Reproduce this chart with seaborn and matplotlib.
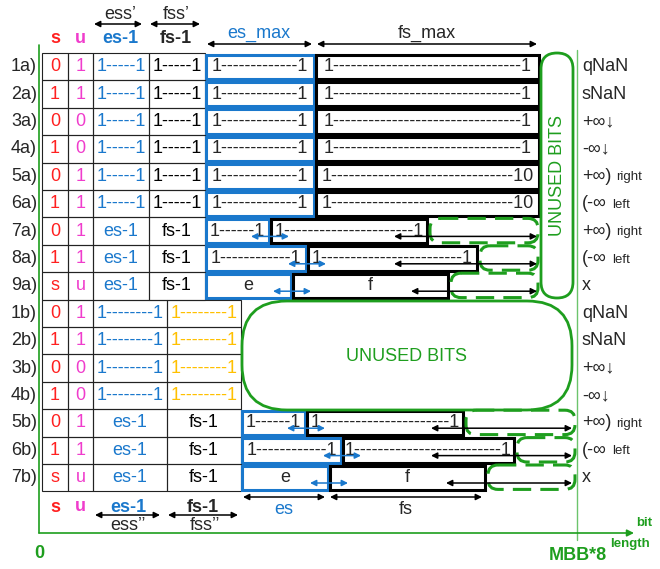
import matplotlib
matplotlib.use("Agg")
import matplotlib.pyplot as plt
import seaborn as sns
from matplotlib.patches import Rectangle, FancyBboxPatch

sns.set_theme(style="white")
plt.rcParams["font.family"] = ["Liberation Sans", "DejaVu Sans"]

# ---- data ----
a_labels = ["1a)", "2a)", "3a)", "4a)", "5a)", "6a)", "7a)", "8a)", "9a)"]
a_s = ["0", "1", "0", "1", "0", "1", "0", "1", "s"]
a_u = ["1", "1", "0", "0", "1", "1", "1", "1", "u"]
a_es = ["1-----1", "1-----1", "1-----1", "1-----1", "1-----1", "1-----1", "es-1", "es-1", "es-1"]
a_fs = ["1-----1", "1-----1", "1-----1", "1-----1", "1-----1", "1-----1", "fs-1", "fs-1", "fs-1"]
a_e_len = [108, 108, 108, 108, 108, 108, 63, 100, 85]
a_f_len = [223, 223, 223, 223, 223, 223, 156, 169, 155]
a_e_txt = ["1-------------1"] * 6 + ["1------1", "1------------1", "e"]
a_f_txt = ["1--------------------------------1", "1--------------------------------1",
           "1--------------------------------1", "1--------------------------------1",
           "1-------------------------------10", "1-------------------------------10",
           "1----------------------1", "1------------------------1", "f"]
a_arrow_back = [None, None, None, None, None, None, 33, 83, 37]
a_right = ["qNaN", "sNaN", "+∞↓", "-∞↓", "+∞)", "(-∞", "+∞)", "(-∞", "x"]
a_side = ["", "", "", "", "right", "left", "right", "left", ""]

b_labels = ["1b)", "2b)", "3b)", "4b)", "5b)", "6b)", "7b)"]
b_s = ["0", "1", "0", "1", "0", "1", "s"]
b_u = ["1", "1", "0", "0", "1", "1", "u"]
b_es = ["1--------1", "1--------1", "1--------1", "1--------1", "es-1", "es-1", "es-1"]
b_fs = ["1--------1", "1--------1", "1--------1", "1--------1", "fs-1", "fs-1", "fs-1"]
b_e_len = [None, None, None, None, 63, 99, 86]
b_f_len = [None, None, None, None, 156, 171, 155]
b_e_txt = ["", "", "", "", "1------1", "1------------1", "e"]
b_f_txt = ["", "", "", "", "1----------------------1", "1-------------------------1", "f"]
b_arrow_back = [None, None, None, None, 32, 83, 39]
b_right = ["qNaN", "sNaN", "+∞↓", "-∞↓", "+∞)", "(-∞", "x"]
b_side = ["", "", "", "", "right", "left", ""]

# ---- style ----
RED = "#ff2020"
MAG = "#f03ccc"
BLUE = "#1a78cc"
ORANGE = "#ffc000"
GREEN = "#1e9e1e"
FS = 13

fig = plt.figure(figsize=(6.6, 5.69), dpi=100)
ax = fig.add_axes([0, 0, 1, 1])
ax.set_xlim(0, 660)
ax.set_ylim(569, 0)
ax.axis("off")

TOP = 53
H = 27.4


def arrow(x0, x1, y, color="black", ms=9):
    ax.annotate("", xy=(x1, y), xytext=(x0, y),
                arrowprops=dict(arrowstyle="<|-|>", color=color, lw=1.1,
                                mutation_scale=ms, shrinkA=0, shrinkB=0))


def draw_rows(labels, s, u, es, fs, e_len, f_len, e_txt, f_txt, back,
              right, side, first, cols, es_color, fs_color, end_x, dash_end):
    for i, lab in enumerate(labels):
        top = TOP + (first + i) * H
        yc = top + H / 2
        ax.text(37, yc, lab, ha="right", va="center", fontsize=FS)
        for c in range(4):
            ax.add_patch(Rectangle((cols[c], top), cols[c + 1] - cols[c], H,
                                   fill=False, ec="#222222", lw=0.8))
        ax.text((cols[0] + cols[1]) / 2, yc, s[i], ha="center", va="center", fontsize=FS, color=RED)
        ax.text((cols[1] + cols[2]) / 2, yc, u[i], ha="center", va="center", fontsize=FS, color=MAG)
        ec = es_color if es[i].startswith("1") else BLUE
        fc = fs_color if fs[i].startswith("1") else "black"
        ax.text((cols[2] + cols[3]) / 2, yc, es[i], ha="center", va="center", fontsize=FS, color=ec)
        ax.text((cols[3] + cols[4]) / 2, yc, fs[i], ha="center", va="center", fontsize=FS, color=fc)
        ax.text(582, yc, right[i], ha="left", va="center", fontsize=FS)
        if side[i]:
            ax.text(616 if side[i] == "right" else 612, yc + 1, side[i], ha="left",
                    va="center", fontsize=9.5)
        if e_len[i] is None:
            continue
        x0 = cols[4] + 1
        x1 = x0 + e_len[i]
        ax.add_patch(Rectangle((x0, top + 1.5), e_len[i], H - 3, fill=False, ec=BLUE, lw=2.2))
        ax.text((x0 + x1) / 2, yc, e_txt[i], ha="center", va="center", fontsize=FS)
        f0 = x1 + 2
        f1 = f0 + f_len[i]
        ax.add_patch(Rectangle((f0, top + 1.5), f_len[i], H - 3, fill=False, ec="black", lw=2.2))
        ax.text((f0 + f1) / 2, yc, f_txt[i], ha="center", va="center", fontsize=FS)
        if back[i] is not None:
            ax.add_patch(FancyBboxPatch((f1 + 3, top + 1), dash_end - f1 - 3, H - 3,
                                        boxstyle="round,pad=0,rounding_size=10",
                                        fill=False, ec=GREEN, lw=2.2, ls=(0, (6, 3))))
            arrow(x1 - 18, x1 + 20, top + 19, color=BLUE)
            arrow(f1 - back[i], end_x, top + 19)


draw_rows(a_labels, a_s, a_u, a_es, a_fs, a_e_len, a_f_len, a_e_txt, a_f_txt, a_arrow_back,
          a_right, a_side, 0, [42, 68, 93, 149, 205], BLUE, "black", 537, 538)
draw_rows(b_labels, b_s, b_u, b_es, b_fs, b_e_len, b_f_len, b_e_txt, b_f_txt, b_arrow_back,
          b_right, b_side, 9, [42, 68, 93, 167, 241], BLUE, ORANGE, 572, 575)

# unused bits areas
ax.add_patch(FancyBboxPatch((541, 53), 32, 245, boxstyle="round,pad=0,rounding_size=16",
                            fill=False, ec=GREEN, lw=2))
ax.text(557, 175, "UNUSED BITS", rotation=90, ha="center", va="center", fontsize=FS, color=GREEN)
ax.add_patch(FancyBboxPatch((242, 301), 330, 109, boxstyle="round,pad=0,rounding_size=45",
                            fill=False, ec=GREEN, lw=2))
ax.text(406, 356, "UNUSED BITS", ha="center", va="center", fontsize=FS, color=GREEN)

# header
ax.text(55, 38, "s", ha="center", va="center", fontsize=FS, color=RED, weight="bold")
ax.text(80, 38, "u", ha="center", va="center", fontsize=FS, color=MAG, weight="bold")
ax.text(120, 38, "es-1", ha="center", va="center", fontsize=FS, color=BLUE, weight="bold")
ax.text(176, 38, "fs-1", ha="center", va="center", fontsize=FS, weight="bold")
ax.text(120, 14, "ess’", ha="center", va="center", fontsize=FS)
ax.text(176, 14, "fss’", ha="center", va="center", fontsize=FS)
arrow(94, 142, 24)
arrow(150, 200, 24)
ax.text(259, 33, "es_max", ha="center", va="center", fontsize=FS, color=BLUE)
ax.text(427, 33, "fs_max", ha="center", va="center", fontsize=FS)
arrow(207, 312, 44)
arrow(317, 537, 44)

# footer
ax.text(55, 507, "s", ha="center", va="center", fontsize=FS, color=RED, weight="bold")
ax.text(80, 506, "u", ha="center", va="center", fontsize=FS, color=MAG, weight="bold")
ax.text(128, 507, "es-1", ha="center", va="center", fontsize=FS, color=BLUE, weight="bold")
ax.text(203, 507, "fs-1", ha="center", va="center", fontsize=FS, weight="bold")
arrow(95, 160, 515)
arrow(168, 238, 515)
ax.text(128, 526, "ess’’", ha="center", va="center", fontsize=FS)
ax.text(205, 526, "fss’’", ha="center", va="center", fontsize=FS)
arrow(243, 325, 497)
arrow(330, 482, 497)
ax.text(284, 509, "es", ha="center", va="center", fontsize=FS, color=BLUE)
ax.text(406, 509, "fs", ha="center", va="center", fontsize=FS)

# axes
ax.plot([39, 39], [45, 533], color=GREEN, lw=1.2)
ax.plot([577, 577], [50, 540], color="#6cc46c", lw=1)
ax.annotate("", xy=(634, 533), xytext=(39, 533),
            arrowprops=dict(arrowstyle="-|>", color=GREEN, lw=1.2, mutation_scale=10,
                            shrinkA=0, shrinkB=0))
ax.text(39, 553, "0", ha="center", va="center", fontsize=FS, color=GREEN, weight="bold")
ax.text(578, 555, "MBB*8", ha="center", va="center", fontsize=FS, color=GREEN, weight="bold")
ax.text(652, 523, "bit", ha="right", va="center", fontsize=9.5, color=GREEN, weight="bold")
ax.text(650, 544, "length", ha="right", va="center", fontsize=9.5, color=GREEN, weight="bold")

fig.savefig("out.png", dpi=100)
